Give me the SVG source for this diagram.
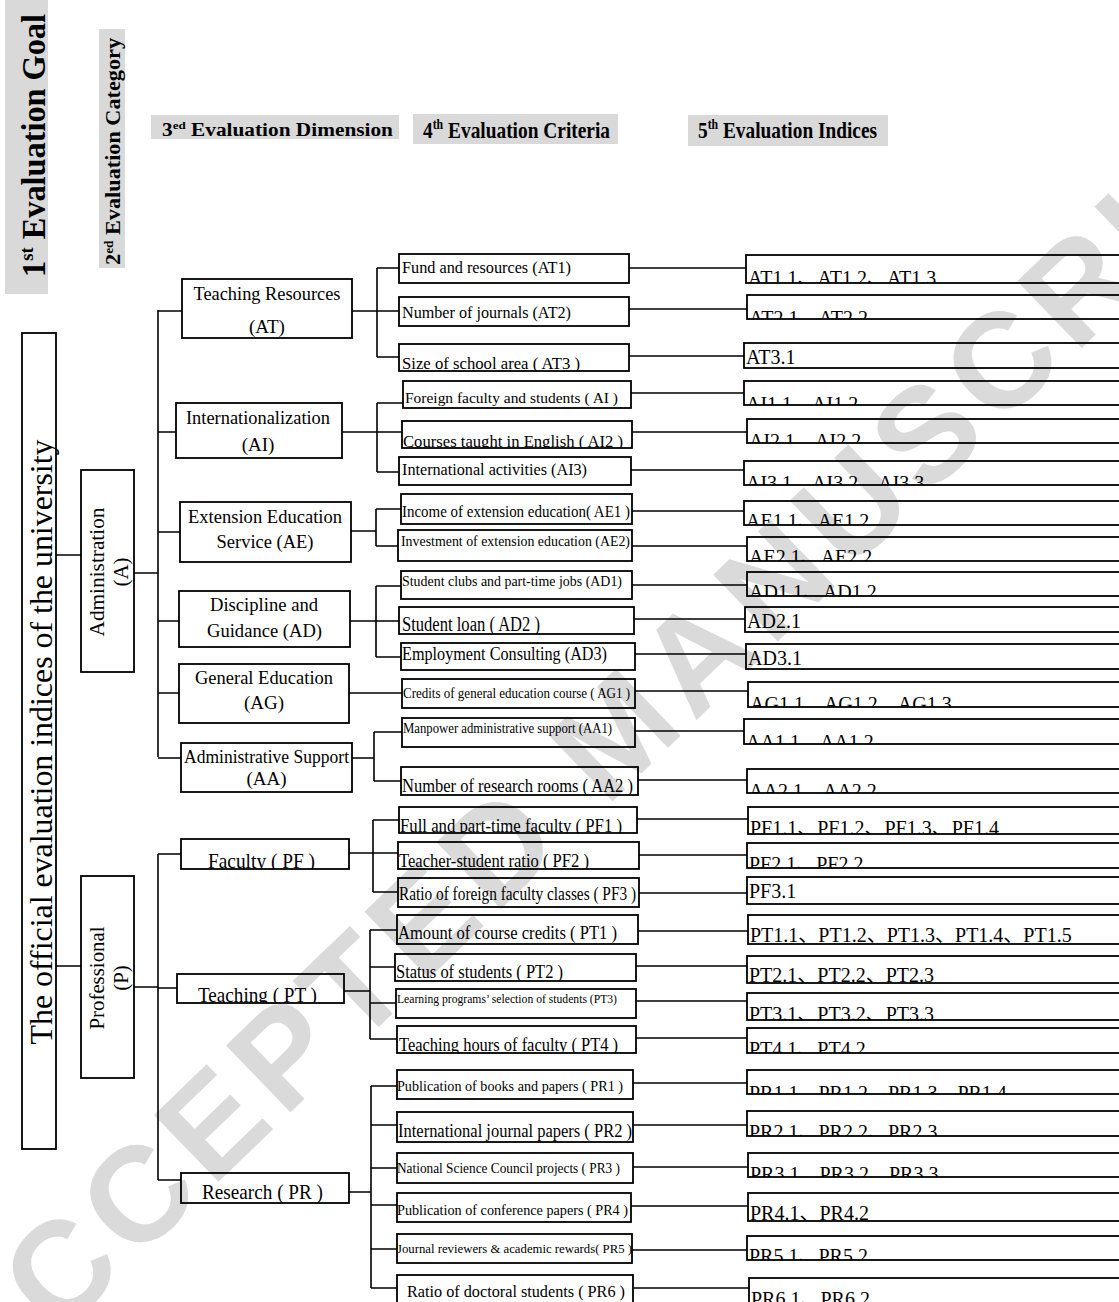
<svg xmlns="http://www.w3.org/2000/svg" width="1119" height="1302" viewBox="0 0 1119 1302">
<style>
.box{fill:none;stroke:#000;stroke-width:1.8}
.cn path{fill:none;stroke:#000;stroke-width:1.6}
.t{font-family:"Liberation Serif","Noto Sans CJK SC",serif;fill:#000}
.h{font-family:"Liberation Serif",serif;font-weight:bold;fill:#000}
.g{fill:#d9d9d9}
.m{text-anchor:middle}
.ix{font-size:20px}
.wm{font-family:"Liberation Sans",Arial,sans-serif;font-weight:bold;font-size:135px;letter-spacing:10px;fill:#dadada}
</style>
<rect width="1119" height="1302" fill="#fff"/>
<g id="watermark"><text class="wm" transform="translate(-20,1412) rotate(-44)">ACCEPTED MANUSCRIPT</text></g>

<g id="headers">
<g id="h1"><rect class="g" x="5" y="0" width="43" height="294"/>
<text class="h" transform="translate(45,145.5) rotate(-90)" text-anchor="middle" font-size="33" textLength="263" lengthAdjust="spacingAndGlyphs">1<tspan font-size="19" dy="-12">st</tspan><tspan dy="12"> Evaluation Goal</tspan></text></g>
<g id="h2"><rect class="g" x="99" y="29" width="26" height="239"/>
<text class="h" transform="translate(120,151.5) rotate(-90)" text-anchor="middle" font-size="20" textLength="227" lengthAdjust="spacingAndGlyphs">2<tspan font-size="12" dy="-7">ed</tspan><tspan dy="7"> Evaluation Category</tspan></text></g>
<g id="h3"><rect class="g" x="151" y="115" width="248" height="24"/>
<text class="h" x="162" y="136" font-size="18" textLength="231" lengthAdjust="spacingAndGlyphs">3<tspan font-size="11" dy="-7">ed</tspan><tspan dy="7"> Evaluation Dimension</tspan></text></g>
<g id="h4"><rect class="g" x="413" y="114" width="205" height="30"/>
<text class="h" x="423" y="138" font-size="23" textLength="187" lengthAdjust="spacingAndGlyphs">4<tspan font-size="14" dy="-9">th</tspan><tspan dy="9"> Evaluation Criteria</tspan></text></g>
<g id="h5"><rect class="g" x="688" y="115" width="200" height="31"/>
<text class="h" x="698" y="138" font-size="23" textLength="179" lengthAdjust="spacingAndGlyphs">5<tspan font-size="14" dy="-9">th</tspan><tspan dy="9"> Evaluation Indices</tspan></text></g>
</g>

<g id="connectors" class="cn">
<path d="M56 555H81M134 573H158M158 310V757M158 311H182M158 432H176M158 532H180M158 621H179M158 693H179M158 758H181"/>
<path d="M56 966H81M134 987H158M158 854V1180M158 854H181M158 988H177M158 1180H181"/>
<path d="M352 311H399M377 268V357M377 268H399M377 357H399"/>
<path d="M342 432H402M377 403V472M377 403H403M377 472H399"/>
<path d="M351 531H376M376 509V546M376 509H401M376 546H398"/>
<path d="M350 621H399M376 586V657M376 586H401M376 657H401"/>
<path d="M349 693H402"/>
<path d="M352 758H374M374 732V781M374 732H402M374 781H401"/>
<path d="M349 853H398M373 820V892M373 820H399M373 892H398"/>
<path d="M344 991H370M370 930V1039M370 930H397M370 967H395M370 1003H396M370 1039H397"/>
<path d="M349 1192H371M371 1086V1288M371 1086H397M371 1125H397M371 1168H397M371 1205H397M371 1249H397M371 1288H397"/>
<path d="M629 268H746M629 309H747M629 356H744M631 393H744M632 432H747M631 470H744M632 511H744M632 546H747M632 585H747M634 619H745M635 654H746M635 691H748M635 731H744M638 780H747"/>
<path d="M637 819H748M639 855H747M639 893H747M638 931H748M636 966H747M636 1001H747M636 1038H747M633 1083H747M633 1125H747M633 1167H748M631 1206H748M632 1250H747M633 1288H749"/>
</g>

<g id="node-root"><rect class="box" x="22" y="333" width="34" height="816"/>
<text class="t m" transform="translate(52,742) rotate(-90)" font-size="31" textLength="605" lengthAdjust="spacingAndGlyphs">The official evaluation indices of the university</text></g>
<g id="node-A"><rect class="box" x="81" y="470" width="53" height="202"/>
<text class="t m" transform="translate(104,572) rotate(-90)" font-size="21" textLength="129" lengthAdjust="spacingAndGlyphs">Administration</text>
<text class="t m" transform="translate(128,572) rotate(-90)" font-size="21">(A)</text></g>
<g id="node-P"><rect class="box" x="81" y="876" width="53" height="202"/>
<text class="t m" transform="translate(104,978) rotate(-90)" font-size="21" textLength="103" lengthAdjust="spacingAndGlyphs">Professional</text>
<text class="t m" transform="translate(128,978) rotate(-90)" font-size="21">(P)</text></g>

<g id="node-AT"><rect class="box" x="182" y="279" width="170" height="59"/>
<text class="t m" x="267" y="300" font-size="19" textLength="147" lengthAdjust="spacingAndGlyphs">Teaching Resources</text>
<text class="t m" x="267" y="333" font-size="19">(AT)</text></g>
<g id="node-AI"><rect class="box" x="176" y="403" width="166" height="55"/>
<text class="t m" x="258" y="424" font-size="19" textLength="144" lengthAdjust="spacingAndGlyphs">Internationalization</text>
<text class="t m" x="258" y="451" font-size="19">(AI)</text></g>
<g id="node-AE"><rect class="box" x="180" y="502" width="171" height="60"/>
<text class="t m" x="265" y="523" font-size="19" textLength="154" lengthAdjust="spacingAndGlyphs">Extension Education</text>
<text class="t m" x="265" y="548" font-size="19" textLength="97" lengthAdjust="spacingAndGlyphs">Service (AE)</text></g>
<g id="node-AD"><rect class="box" x="179" y="591" width="171" height="56"/>
<text class="t m" x="264" y="611" font-size="19" textLength="108" lengthAdjust="spacingAndGlyphs">Discipline and</text>
<text class="t m" x="264.5" y="637" font-size="19" textLength="115" lengthAdjust="spacingAndGlyphs">Guidance (AD)</text></g>
<g id="node-AG"><rect class="box" x="179" y="664" width="170" height="59"/>
<text class="t m" x="264" y="684" font-size="19" textLength="138" lengthAdjust="spacingAndGlyphs">General Education</text>
<text class="t m" x="264" y="709" font-size="19">(AG)</text></g>
<g id="node-AA"><rect class="box" x="181" y="743" width="171" height="49"/>
<text class="t m" x="266.5" y="763" font-size="19" textLength="165" lengthAdjust="spacingAndGlyphs">Administrative Support</text>
<text class="t m" x="266.5" y="785" font-size="19">(AA)</text></g>
<g id="node-PF"><rect class="box" x="181" y="839" width="168" height="30"/>
<svg x="181" y="839" width="168" height="30" viewBox="181 839 168 30"><text class="t m" x="261.5" y="868" font-size="21" textLength="107" lengthAdjust="spacingAndGlyphs">Faculty ( PF )</text></svg></g>
<g id="node-PT"><rect class="box" x="177" y="974" width="167" height="29"/>
<svg x="177" y="974" width="167" height="29" viewBox="177 974 167 29"><text class="t m" x="257.5" y="1002" font-size="21" textLength="119" lengthAdjust="spacingAndGlyphs">Teaching ( PT )</text></svg></g>
<g id="node-PR"><rect class="box" x="181" y="1173" width="168" height="30"/>
<svg x="181" y="1173" width="168" height="30" viewBox="181 1173 168 30"><text class="t m" x="262.5" y="1199" font-size="21" textLength="121" lengthAdjust="spacingAndGlyphs">Research ( PR )</text></svg></g>

<g id="node-AT1"><rect class="box" x="399" y="254" width="230" height="29"/><svg x="399" y="254" width="230" height="29" viewBox="399 254 230 29"><text class="t" x="402" y="273" font-size="16" textLength="169" lengthAdjust="spacingAndGlyphs">Fund and resources (AT1)</text></svg></g>
<g id="node-AT2"><rect class="box" x="399" y="297" width="230" height="29"/><svg x="399" y="297" width="230" height="29" viewBox="399 297 230 29"><text class="t" x="402" y="318" font-size="16" textLength="169" lengthAdjust="spacingAndGlyphs">Number of journals (AT2)</text></svg></g>
<g id="node-AT3"><rect class="box" x="399" y="344" width="230" height="27"/><svg x="399" y="344" width="230" height="27" viewBox="399 344 230 27"><text class="t" x="402" y="369" font-size="17" textLength="178" lengthAdjust="spacingAndGlyphs">Size of school area ( AT3 )</text></svg></g>
<g id="node-AI1"><rect class="box" x="403" y="381" width="228" height="27"/><svg x="403" y="381" width="228" height="27" viewBox="403 381 228 27"><text class="t" x="405" y="403" font-size="15" textLength="213" lengthAdjust="spacingAndGlyphs">Foreign faculty and students ( AI )</text></svg></g>
<g id="node-AI2"><rect class="box" x="402" y="421" width="230" height="27"/><svg x="402" y="421" width="230" height="27" viewBox="402 421 230 27"><text class="t" x="403" y="447" font-size="17" textLength="220" lengthAdjust="spacingAndGlyphs">Courses taught in English ( AI2 )</text></svg></g>
<g id="node-AI3"><rect class="box" x="399" y="457" width="232" height="28"/><svg x="399" y="457" width="232" height="28" viewBox="399 457 232 28"><text class="t" x="402" y="475" font-size="16" textLength="185" lengthAdjust="spacingAndGlyphs">International activities (AI3)</text></svg></g>
<g id="node-AE1"><rect class="box" x="401" y="494" width="231" height="30"/><svg x="401" y="494" width="231" height="30" viewBox="401 494 231 30"><text class="t" x="402" y="517" font-size="16" textLength="228" lengthAdjust="spacingAndGlyphs">Income of extension education( AE1 )</text></svg></g>
<g id="node-AE2"><rect class="box" x="398" y="530" width="234" height="31"/><svg x="398" y="530" width="234" height="31" viewBox="398 530 234 31"><text class="t" x="401" y="546" font-size="14.5" textLength="229" lengthAdjust="spacingAndGlyphs">Investment of extension education (AE2)</text></svg></g>
<g id="node-AD1"><rect class="box" x="401" y="571" width="231" height="28"/><svg x="401" y="571" width="231" height="28" viewBox="401 571 231 28"><text class="t" x="402" y="586" font-size="14.5" textLength="220" lengthAdjust="spacingAndGlyphs">Student clubs and part-time jobs (AD1)</text></svg></g>
<g id="node-AD2"><rect class="box" x="399" y="607" width="235" height="27"/><svg x="399" y="607" width="235" height="27" viewBox="399 607 235 27"><text class="t" x="402" y="631" font-size="20" textLength="138" lengthAdjust="spacingAndGlyphs">Student loan ( AD2 )</text></svg></g>
<g id="node-AD3"><rect class="box" x="401" y="643" width="234" height="27"/><svg x="401" y="643" width="234" height="27" viewBox="401 643 234 27"><text class="t" x="402" y="660" font-size="19" textLength="205" lengthAdjust="spacingAndGlyphs">Employment Consulting (AD3)</text></svg></g>
<g id="node-AG1"><rect class="box" x="402" y="679" width="233" height="29"/><svg x="402" y="679" width="233" height="29" viewBox="402 679 233 29"><text class="t" x="403" y="698" font-size="14" textLength="227" lengthAdjust="spacingAndGlyphs">Credits of general education course ( AG1 )</text></svg></g>
<g id="node-AA1"><rect class="box" x="402" y="718" width="233" height="29"/><svg x="402" y="718" width="233" height="29" viewBox="402 718 233 29"><text class="t" x="403" y="733" font-size="14" textLength="209" lengthAdjust="spacingAndGlyphs">Manpower administrative support (AA1)</text></svg></g>
<g id="node-AA2"><rect class="box" x="401" y="767" width="237" height="28"/><svg x="401" y="767" width="237" height="28" viewBox="401 767 237 28"><text class="t" x="402" y="792" font-size="18" textLength="231" lengthAdjust="spacingAndGlyphs">Number of research rooms ( AA2 )</text></svg></g>
<g id="node-PF1"><rect class="box" x="399" y="807" width="238" height="26"/><svg x="399" y="807" width="238" height="26" viewBox="399 807 238 26"><text class="t" x="400" y="832" font-size="18" textLength="222" lengthAdjust="spacingAndGlyphs">Full and part-time faculty ( PF1 )</text></svg></g>
<g id="node-PF2"><rect class="box" x="398" y="842" width="241" height="27"/><svg x="398" y="842" width="241" height="27" viewBox="398 842 241 27"><text class="t" x="399" y="867" font-size="18" textLength="190" lengthAdjust="spacingAndGlyphs">Teacher-student ratio ( PF2 )</text></svg></g>
<g id="node-PF3"><rect class="box" x="398" y="878" width="241" height="29"/><svg x="398" y="878" width="241" height="29" viewBox="398 878 241 29"><text class="t" x="399" y="900" font-size="18" textLength="237" lengthAdjust="spacingAndGlyphs">Ratio of foreign faculty classes ( PF3 )</text></svg></g>
<g id="node-PT1"><rect class="box" x="397" y="915" width="241" height="29"/><svg x="397" y="915" width="241" height="29" viewBox="397 915 241 29"><text class="t" x="398" y="939" font-size="19" textLength="219" lengthAdjust="spacingAndGlyphs">Amount of course credits ( PT1 )</text></svg></g>
<g id="node-PT2"><rect class="box" x="395" y="954" width="241" height="27"/><svg x="395" y="954" width="241" height="27" viewBox="395 954 241 27"><text class="t" x="396" y="978" font-size="19" textLength="167" lengthAdjust="spacingAndGlyphs">Status of students ( PT2 )</text></svg></g>
<g id="node-PT3"><rect class="box" x="396" y="989" width="240" height="29"/><svg x="396" y="989" width="240" height="29" viewBox="396 989 240 29"><text class="t" x="397" y="1003" font-size="12.5" textLength="220" lengthAdjust="spacingAndGlyphs">Learning programs’ selection of students (PT3)</text></svg></g>
<g id="node-PT4"><rect class="box" x="397" y="1026" width="239" height="27"/><svg x="397" y="1026" width="239" height="27" viewBox="397 1026 239 27"><text class="t" x="399" y="1051" font-size="18" textLength="219" lengthAdjust="spacingAndGlyphs">Teaching hours of faculty ( PT4 )</text></svg></g>
<g id="node-PR1"><rect class="box" x="397" y="1070" width="236" height="29"/><svg x="397" y="1070" width="236" height="29" viewBox="397 1070 236 29"><text class="t" x="397" y="1091" font-size="15" textLength="226" lengthAdjust="spacingAndGlyphs">Publication of books and papers ( PR1 )</text></svg></g>
<g id="node-PR2"><rect class="box" x="397" y="1112" width="236" height="30"/><svg x="397" y="1112" width="236" height="30" viewBox="397 1112 236 30"><text class="t" x="398" y="1137" font-size="18" textLength="234" lengthAdjust="spacingAndGlyphs">International journal papers ( PR2 )</text></svg></g>
<g id="node-PR3"><rect class="box" x="397" y="1153" width="236" height="30"/><svg x="397" y="1153" width="236" height="30" viewBox="397 1153 236 30"><text class="t" x="397" y="1173" font-size="14" textLength="223" lengthAdjust="spacingAndGlyphs">National Science Council projects ( PR3 )</text></svg></g>
<g id="node-PR4"><rect class="box" x="397" y="1193" width="234" height="29"/><svg x="397" y="1193" width="234" height="29" viewBox="397 1193 234 29"><text class="t" x="397" y="1215" font-size="15" textLength="231" lengthAdjust="spacingAndGlyphs">Publication of conference papers ( PR4 )</text></svg></g>
<g id="node-PR5"><rect class="box" x="397" y="1234" width="235" height="29"/><svg x="397" y="1234" width="235" height="29" viewBox="397 1234 235 29"><text class="t" x="397" y="1253" font-size="13.5" textLength="235" lengthAdjust="spacingAndGlyphs">Journal reviewers &amp; academic rewards( PR5 )</text></svg></g>
<g id="node-PR6"><rect class="box" x="397" y="1275" width="236" height="30"/><svg x="397" y="1275" width="236" height="30" viewBox="397 1275 236 30"><text class="t" x="407" y="1297" font-size="17" textLength="218" lengthAdjust="spacingAndGlyphs">Ratio of doctoral students ( PR6 )</text></svg></g>

<g id="idx-AT1"><rect class="box" x="746" y="255" width="380" height="28"/><svg x="746" y="255" width="373" height="28" viewBox="746 255 373 28"><text class="t ix" x="748" y="285">AT1.1、AT1.2、AT1.3</text></svg></g>
<g id="idx-AT2"><rect class="box" x="747" y="295" width="380" height="24"/><svg x="747" y="295" width="372" height="24" viewBox="747 295 372 24"><text class="t ix" x="749" y="325">AT2.1、AT2.2</text></svg></g>
<g id="idx-AT3"><rect class="box" x="744" y="343" width="380" height="25"/><svg x="744" y="343" width="375" height="25" viewBox="744 343 375 25"><text class="t ix" x="746" y="364">AT3.1</text></svg></g>
<g id="idx-AI1"><rect class="box" x="744" y="381" width="380" height="24"/><svg x="744" y="381" width="375" height="24" viewBox="744 381 375 24"><text class="t ix" x="746" y="411">AI1.1、AI1.2</text></svg></g>
<g id="idx-AI2"><rect class="box" x="747" y="419" width="380" height="24"/><svg x="747" y="419" width="372" height="24" viewBox="747 419 372 24"><text class="t ix" x="749" y="448">AI2.1、AI2.2</text></svg></g>
<g id="idx-AI3"><rect class="box" x="744" y="461" width="380" height="24"/><svg x="744" y="461" width="375" height="24" viewBox="744 461 375 24"><text class="t ix" x="746" y="490">AI3.1、AI3.2、AI3.3</text></svg></g>
<g id="idx-AE1"><rect class="box" x="744" y="501" width="380" height="24"/><svg x="744" y="501" width="375" height="24" viewBox="744 501 375 24"><text class="t ix" x="746" y="528">AE1.1、AE1.2</text></svg></g>
<g id="idx-AE2"><rect class="box" x="747" y="537" width="380" height="24"/><svg x="747" y="537" width="372" height="24" viewBox="747 537 372 24"><text class="t ix" x="749" y="564">AE2.1、AE2.2</text></svg></g>
<g id="idx-AD1"><rect class="box" x="747" y="572" width="380" height="24"/><svg x="747" y="572" width="372" height="24" viewBox="747 572 372 24"><text class="t ix" x="749" y="599">AD1.1、AD1.2</text></svg></g>
<g id="idx-AD2"><rect class="box" x="745" y="607" width="380" height="25"/><svg x="745" y="607" width="374" height="25" viewBox="745 607 374 25"><text class="t ix" x="747" y="628">AD2.1</text></svg></g>
<g id="idx-AD3"><rect class="box" x="746" y="644" width="380" height="25"/><svg x="746" y="644" width="373" height="25" viewBox="746 644 373 25"><text class="t ix" x="748" y="665">AD3.1</text></svg></g>
<g id="idx-AG1"><rect class="box" x="748" y="682" width="380" height="25"/><svg x="748" y="682" width="371" height="25" viewBox="748 682 371 25"><text class="t ix" x="750" y="711">AG1.1、AG1.2、AG1.3</text></svg></g>
<g id="idx-AA1"><rect class="box" x="744" y="719" width="380" height="25"/><svg x="744" y="719" width="375" height="25" viewBox="744 719 375 25"><text class="t ix" x="746" y="749">AA1.1、AA1.2</text></svg></g>
<g id="idx-AA2"><rect class="box" x="747" y="769" width="380" height="24"/><svg x="747" y="769" width="372" height="24" viewBox="747 769 372 24"><text class="t ix" x="749" y="798">AA2.1、AA2.2</text></svg></g>
<g id="idx-PF1"><rect class="box" x="748" y="807" width="380" height="27"/><svg x="748" y="807" width="371" height="27" viewBox="748 807 371 27"><text class="t ix" x="750" y="835">PF1.1、PF1.2、PF1.3、PF1.4</text></svg></g>
<g id="idx-PF2"><rect class="box" x="747" y="843" width="380" height="25"/><svg x="747" y="843" width="372" height="25" viewBox="747 843 372 25"><text class="t ix" x="749" y="871">PF2.1、PF2.2</text></svg></g>
<g id="idx-PF3"><rect class="box" x="747" y="877" width="380" height="27"/><svg x="747" y="877" width="372" height="27" viewBox="747 877 372 27"><text class="t ix" x="749" y="898">PF3.1</text></svg></g>
<g id="idx-PT1"><rect class="box" x="748" y="915" width="380" height="29"/><svg x="748" y="915" width="371" height="29" viewBox="748 915 371 29"><text class="t ix" x="750" y="942">PT1.1、PT1.2、PT1.3、PT1.4、PT1.5</text></svg></g>
<g id="idx-PT2"><rect class="box" x="747" y="956" width="380" height="27"/><svg x="747" y="956" width="372" height="27" viewBox="747 956 372 27"><text class="t ix" x="749" y="982">PT2.1、PT2.2、PT2.3</text></svg></g>
<g id="idx-PT3"><rect class="box" x="747" y="993" width="380" height="27"/><svg x="747" y="993" width="372" height="27" viewBox="747 993 372 27"><text class="t ix" x="749" y="1021">PT3.1、PT3.2、PT3.3</text></svg></g>
<g id="idx-PT4"><rect class="box" x="747" y="1028" width="380" height="25"/><svg x="747" y="1028" width="372" height="25" viewBox="747 1028 372 25"><text class="t ix" x="749" y="1056">PT4.1、PT4.2</text></svg></g>
<g id="idx-PR1"><rect class="box" x="747" y="1070" width="380" height="24"/><svg x="747" y="1070" width="372" height="24" viewBox="747 1070 372 24"><text class="t ix" x="749" y="1100">PR1.1、PR1.2、PR1.3、PR1.4</text></svg></g>
<g id="idx-PR2"><rect class="box" x="747" y="1111" width="380" height="25"/><svg x="747" y="1111" width="372" height="25" viewBox="747 1111 372 25"><text class="t ix" x="749" y="1139">PR2.1、PR2.2、PR2.3</text></svg></g>
<g id="idx-PR3"><rect class="box" x="748" y="1153" width="380" height="24"/><svg x="748" y="1153" width="371" height="24" viewBox="748 1153 371 24"><text class="t ix" x="750" y="1181">PR3.1、PR3.2、PR3.3</text></svg></g>
<g id="idx-PR4"><rect class="box" x="748" y="1193" width="380" height="28"/><svg x="748" y="1193" width="371" height="28" viewBox="748 1193 371 28"><text class="t ix" x="750" y="1220">PR4.1、PR4.2</text></svg></g>
<g id="idx-PR5"><rect class="box" x="747" y="1236" width="380" height="24"/><svg x="747" y="1236" width="372" height="24" viewBox="747 1236 372 24"><text class="t ix" x="749" y="1263">PR5.1、PR5.2</text></svg></g>
<g id="idx-PR6"><rect class="box" x="749" y="1278" width="380" height="30"/><svg x="749" y="1278" width="370" height="30" viewBox="749 1278 370 30"><text class="t ix" x="751" y="1306">PR6.1、PR6.2</text></svg></g>
</svg>
